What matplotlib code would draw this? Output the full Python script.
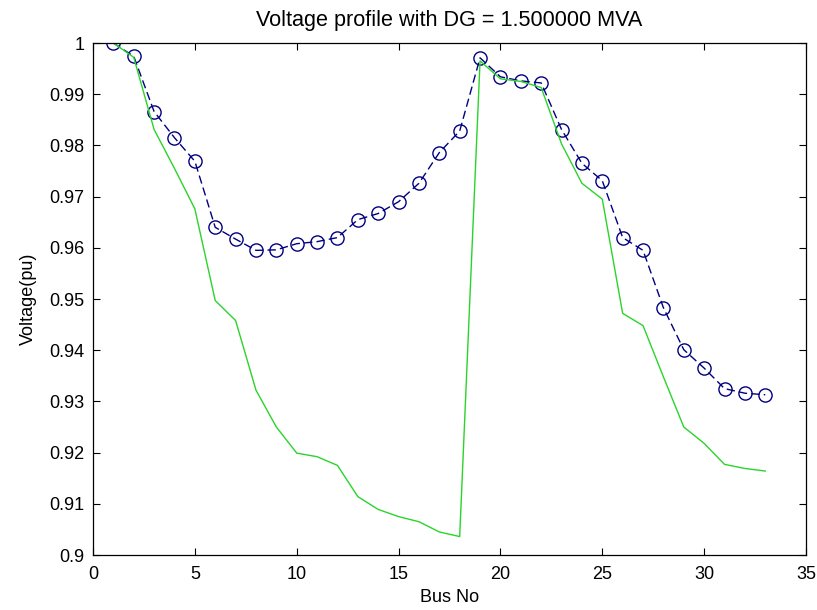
import matplotlib
matplotlib.use('Agg')
import matplotlib.pyplot as plt

# Bus numbers (33-bus system)
bus = list(range(1, 34))

# Voltage with DG (blue dashed with circles)
v_dg = [1.0000, 0.9974, 0.9866, 0.9815, 0.9769, 0.9640, 0.9617, 0.9595, 0.9596, 0.9608,
        0.9612, 0.9620, 0.9655, 0.9667, 0.9690, 0.9726, 0.9786, 0.9828, 0.9971, 0.9934,
        0.9926, 0.9922, 0.9831, 0.9765, 0.9731, 0.9620, 0.9595, 0.9483, 0.9401, 0.9365,
        0.9325, 0.9316, 0.9313]

# Voltage without DG (green line)
v_base = [1.0000, 0.9972, 0.9831, 0.9755, 0.9676, 0.9497, 0.9458, 0.9322, 0.9250, 0.9199,
          0.9192, 0.9175, 0.9114, 0.9089, 0.9075, 0.9065, 0.9045, 0.9036, 0.9965, 0.9930,
          0.9925, 0.9913, 0.9803, 0.9726, 0.9695, 0.9472, 0.9448, 0.9348, 0.9250, 0.9218,
          0.9177, 0.9169, 0.9164]

plt.rcParams['font.family'] = ['Liberation Sans', 'DejaVu Sans']
plt.rcParams['font.size'] = 13

fig = plt.figure(figsize=(8.17, 6.10), dpi=100)
ax = fig.add_axes([93/817, 55/610, 713/817, 512/610])

ax.plot(bus, v_dg, color='#000080', linestyle=(0, (6, 3)), marker='o', markersize=9.5,
        markerfacecolor='none', markeredgewidth=1.0, linewidth=1.0)
ax.plot(bus, v_base, '-', color='#2ad42a', linewidth=1.0)

ax.set_xlim(0, 35)
ax.set_ylim(0.9, 1.0)
ax.set_xticks(range(0, 36, 5))
ax.set_yticks([0.9 + 0.01 * i for i in range(11)])
ax.set_yticklabels(['0.9', '0.91', '0.92', '0.93', '0.94', '0.95', '0.96', '0.97', '0.98', '0.99', '1'])
ax.tick_params(direction='in', top=True, right=True, length=5, width=0.8)
ax.tick_params(axis='x', pad=8)
ax.tick_params(axis='y', pad=6)
for s in ax.spines.values():
    s.set_linewidth(0.9)

ax.set_xlabel('Bus No', labelpad=4)
ax.set_ylabel('Voltage(pu)', labelpad=9)
ax.set_title('Voltage profile with DG = 1.500000 MVA', pad=12)

fig.savefig('out.png', dpi=100)
